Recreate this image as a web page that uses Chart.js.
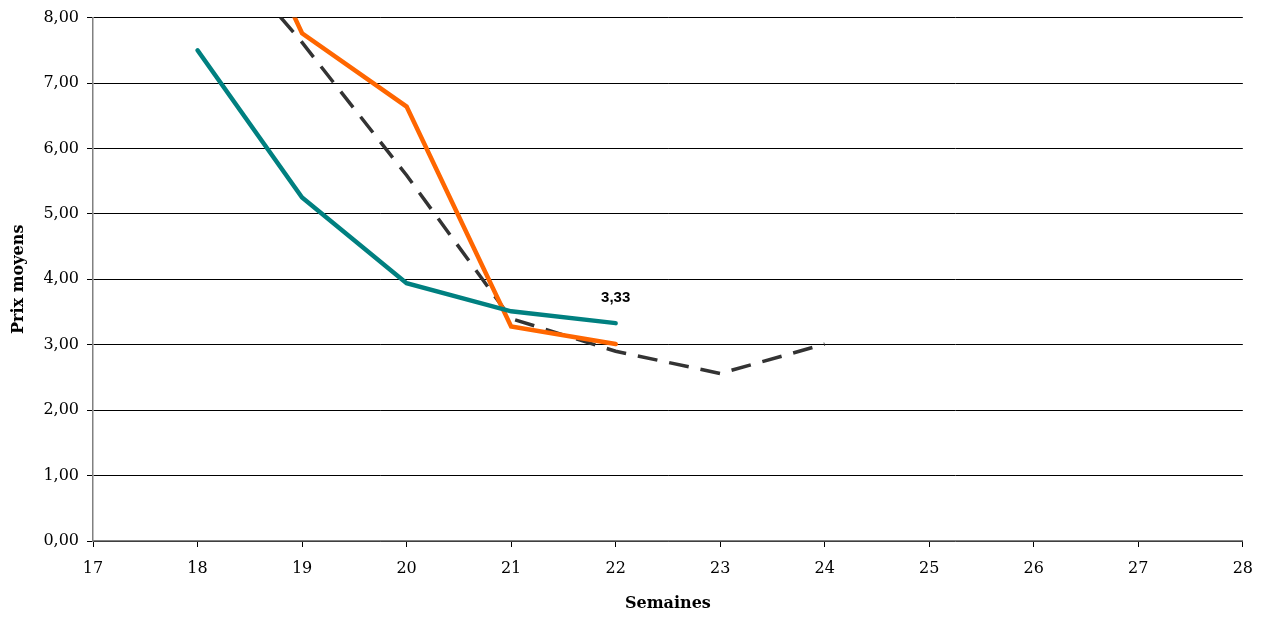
<!DOCTYPE html>
<html>
<head>
<meta charset="utf-8">
<script src="https://cdn.jsdelivr.net/npm/chart.js@4.4.0/dist/chart.umd.min.js"></script>
<style>
  html, body { margin: 0; padding: 0; background: #ffffff; }
  #wrap { width: 1265px; height: 617px; }
</style>
</head>
<body>
<div id="wrap"><canvas id="c" width="1265" height="617"></canvas></div>
<script>
const weeksTeal = [18, 19, 20, 21, 22];
const valuesTeal = [7.50, 5.25, 3.94, 3.51, 3.33];
const weeksOrange = [18, 19, 20, 21, 22];
const valuesOrange = [11.2, 7.76, 6.64, 3.28, 3.01];
const weeksDashed = [18, 19, 20, 21, 22, 23, 24];
const valuesDashed = [9.5, 7.62, 5.59, 3.40, 2.90, 2.56, 3.01];
const labelValue = "3,33";

const toPts = (xs, ys) => xs.map((x, i) => ({ x: x, y: ys[i] }));

const labelPlugin = {
  id: 'lastLabel',
  afterDatasetsDraw(chart) {
    const meta = chart.getDatasetMeta(0);
    const pt = meta.data[meta.data.length - 1];
    const ctx = chart.ctx;
    ctx.save();
    ctx.font = 'bold 15px "Liberation Sans", Arial, sans-serif';
    ctx.fillStyle = '#000000';
    ctx.textAlign = 'center';
    ctx.textBaseline = 'middle';
    ctx.fillText(labelValue, pt.x, pt.y - 25);
    ctx.restore();
  }
};

new Chart(document.getElementById('c'), {
  type: 'line',
  data: {
    datasets: [
      { data: toPts(weeksTeal, valuesTeal), borderColor: '#008080', borderWidth: 4.5, pointRadius: 0, tension: 0, fill: false, borderCapStyle: 'round' },
      { data: toPts(weeksOrange, valuesOrange), borderColor: '#FF6600', borderWidth: 4.5, pointRadius: 0, tension: 0, fill: false, borderCapStyle: 'round' },
      { data: toPts(weeksDashed, valuesDashed), borderColor: '#333333', borderWidth: 3.5, borderDash: [20, 12], pointRadius: 0, tension: 0, fill: false }
    ]
  },
  options: {
    responsive: false,
    animation: false,
    layout: { padding: { top: 17, right: 22, left: 0, bottom: 0 } },
    plugins: { legend: { display: false }, tooltip: { enabled: false } },
    scales: {
      x: {
        type: 'linear', min: 17, max: 28,
        ticks: { stepSize: 1, color: '#000', padding: 12, font: { family: '"DejaVu Serif", serif', size: 16 } },
        grid: { drawOnChartArea: false, drawTicks: true, tickLength: 6, color: '#000' },
        border: { color: '#808080', width: 1.5 },
        title: { display: true, text: 'Semaines', color: '#000', font: { family: '"DejaVu Serif", serif', size: 16, weight: 'bold' }, padding: { top: 4 } },
        afterFit(s) { s.height = 76; }
      },
      y: {
        min: 0, max: 8,
        ticks: { stepSize: 1, color: '#000', padding: 8, font: { family: '"DejaVu Serif", serif', size: 16 },
                 callback: v => v.toFixed(2).replace('.', ',') },
        grid: { color: '#000', lineWidth: 1, drawTicks: true, tickLength: 6, tickColor: '#000' },
        border: { color: '#808080', width: 1.5 },
        title: { display: true, text: 'Prix moyens', color: '#000', font: { family: '"DejaVu Serif", serif', size: 16, weight: 'bold' }, padding: { top: 9, bottom: 0 } },
        afterFit(s) { s.width = 93; }
      }
    }
  },
  plugins: [labelPlugin]
});
</script>
</body>
</html>
